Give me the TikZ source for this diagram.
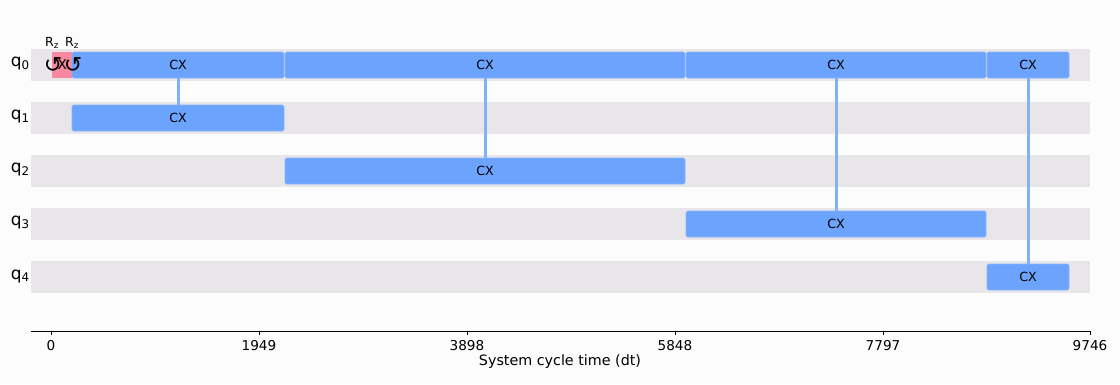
\documentclass[tikz,border=0pt]{standalone}
\usepackage{fontspec}
\setmainfont{DejaVu Sans}
\usetikzlibrary{positioning}
\definecolor{bandgray}{HTML}{E8E6E9}
\definecolor{cxblue}{HTML}{6BA3FD}
\definecolor{linkblue}{HTML}{7FB2F7}
\definecolor{xpink}{HTML}{F8889F}
\tikzset{
  band/.style={fill=bandgray,draw=none},
  cxgate/.style={fill=cxblue,draw=cxblue!80!white,line width=0.6pt,rounded corners=1.5pt,
    minimum height=26pt,inner sep=0pt,outer sep=0pt,anchor=west,font=\fontsize{12.6}{13}\selectfont},
  link/.style={draw=linkblue,line width=3pt},
  qlabel/.style={font=\fontsize{17}{17}\selectfont,anchor=east,inner sep=0pt},
  ticklabel/.style={font=\fontsize{13.6}{14}\selectfont,anchor=north,inner sep=0pt}
}
\begin{document}
\begin{tikzpicture}[x=1pt,y=-1pt]
% page size
\useasboundingbox[fill=white!99!black] (0,0) rectangle (1120,384);
% qubit bands and labels
\foreach \i in {0,...,4}{
  \fill[band] (31,{49+53*\i}) rectangle (1090,{81+53*\i});
  \node[qlabel] (q\i) at (30,{64+53*\i}) {q\textsubscript{\i}};
}
% X gate with the two Rz marks
\node[fill=xpink,minimum width=20pt,minimum height=26pt,inner sep=0pt,anchor=west,
  font=\fontsize{13.5}{14}\selectfont] (xg) at (52,65) {X};
% CX gates, control on q0
\node[cxgate,minimum width=212pt] (cxa0) at (72,65) {CX};
\node[cxgate,minimum width=212pt] (cxa1) at (72,118) {CX};
\node[cxgate,minimum width=400pt] (cxb0) at (285,65) {CX};
\node[cxgate,minimum width=400pt] (cxb2) at (285,171) {CX};
\node[cxgate,minimum width=300pt] (cxc0) at (686,65) {CX};
\node[cxgate,minimum width=300pt] (cxc3) at (686,224) {CX};
\node[cxgate,minimum width=82pt] (cxd0) at (987,65) {CX};
\node[cxgate,minimum width=82pt] (cxd4) at (987,277) {CX};
% links
\draw[link] (cxa0.south) -- (cxa1.north);
\draw[link] (cxb0.south) -- (cxb2.north);
\draw[link] (cxc0.south) -- (cxc3.north);
\draw[link] (cxd0.south) -- (cxd4.north);
% Rz marks
\node[font=\fontsize{22}{22}\selectfont,inner sep=0pt] (rza) at (53,65) {↺};
\node[font=\fontsize{22}{22}\selectfont,inner sep=0pt] (rzb) at (73,65) {↺};
\node[font=\fontsize{12.5}{13}\selectfont,inner sep=0pt] (rza-t) at (52,43) {R\textsubscript{z}};
\node[font=\fontsize{12.5}{13}\selectfont,inner sep=0pt] (rzb-t) at (72,43) {R\textsubscript{z}};
% time axis
\draw[line width=0.9pt] (31,331) -- (1090,331);
\foreach \x/\t in {51/0,259/1949,467/3898,675/5848,883/7797,1090/9746}{
  \draw[line width=0.9pt] (\x,331) -- (\x,335);
  \node[ticklabel] (tick\t) at (\x,340) {\t};
}
\node[font=\fontsize{14.3}{15}\selectfont] (xtitle) at (560,362) {System cycle time (dt)};
\end{tikzpicture}
\end{document}
